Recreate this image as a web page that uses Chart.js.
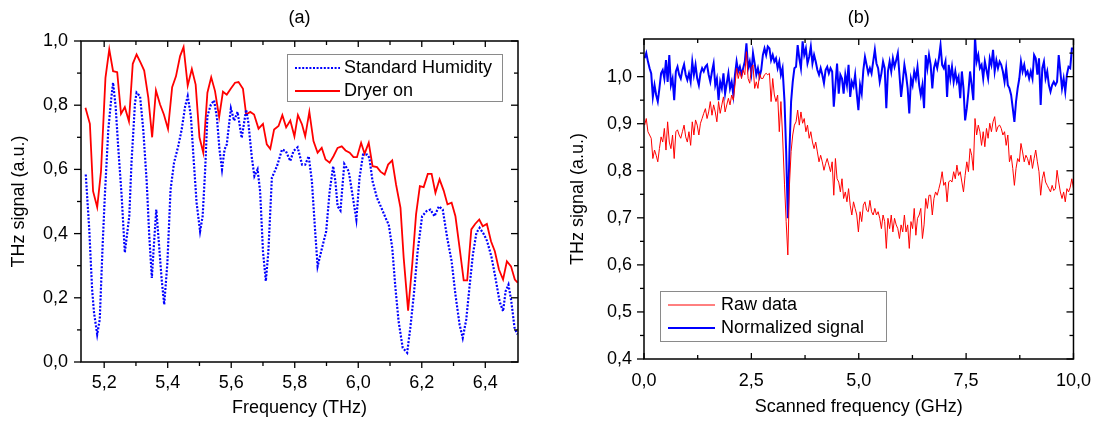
<!DOCTYPE html>
<html>
<head>
<meta charset="utf-8">
<title>THz signal</title>
<script src="https://cdn.jsdelivr.net/npm/chart.js@4.4.1/dist/chart.umd.min.js"></script>
<style>
  html, body { margin: 0; padding: 0; background: #fff; }
  .panel { position: absolute; top: 0; width: 551px; height: 428px; }
</style>
</head>
<body>
<div class="panel" style="left:0"><canvas id="chartA" width="551" height="428"></canvas></div>
<div class="panel" style="left:551px"><canvas id="chartB" width="551" height="428"></canvas></div>
<script>
// --- (a) spectra, THz ---
const freqHum = [
  5.142,5.153,5.162,5.168,5.178,5.186,5.195,5.202,5.213,5.223,
  5.228,5.236,5.244,5.255,5.265,5.279,5.286,5.297,5.302,5.313,
  5.323,5.334,5.342,5.350,5.357,5.364,5.373,5.381,5.389,5.399,
  5.409,5.420,5.433,5.444,5.455,5.463,5.473,5.481,5.491,5.502,
  5.510,5.518,5.525,5.536,5.546,5.555,5.563,5.571,5.579,5.586,
  5.599,5.609,5.620,5.633,5.647,5.654,5.665,5.673,5.683,5.691,
  5.700,5.709,5.717,5.728,5.744,5.760,5.772,5.786,5.796,5.809,
  5.823,5.833,5.844,5.854,5.865,5.872,5.886,5.899,5.910,5.921,
  5.928,5.935,5.944,5.956,5.970,5.980,5.994,6.004,6.015,6.028,
  6.035,6.045,6.059,6.073,6.086,6.096,6.107,6.117,6.127,6.140,
  6.154,6.164,6.175,6.187,6.201,6.215,6.227,6.240,6.254,6.266,
  6.280,6.294,6.306,6.319,6.329,6.340,6.350,6.361,6.372,6.382,
  6.396,6.406,6.420,6.432,6.445,6.456,6.464,6.473,6.482,6.492,
  6.501
];
const humidity = [
  0.584,0.413,0.226,0.154,0.086,0.132,0.361,0.517,0.724,0.828,
  0.870,0.797,0.672,0.517,0.341,0.454,0.621,0.807,0.839,0.828,
  0.724,0.559,0.392,0.262,0.371,0.475,0.361,0.257,0.179,0.309,
  0.537,0.621,0.672,0.724,0.797,0.828,0.766,0.641,0.496,0.407,
  0.454,0.600,0.766,0.802,0.815,0.761,0.662,0.600,0.662,0.678,
  0.790,0.752,0.779,0.698,0.786,0.745,0.636,0.579,0.600,0.532,
  0.345,0.252,0.345,0.574,0.610,0.662,0.657,0.626,0.657,0.669,
  0.615,0.615,0.641,0.563,0.397,0.298,0.356,0.407,0.532,0.610,
  0.563,0.485,0.472,0.617,0.594,0.532,0.444,0.574,0.646,0.646,
  0.636,0.563,0.511,0.480,0.449,0.428,0.356,0.231,0.127,0.044,
  0.029,0.107,0.210,0.345,0.454,0.470,0.475,0.454,0.485,0.475,
  0.387,0.314,0.210,0.117,0.075,0.132,0.231,0.335,0.402,0.418,
  0.397,0.376,0.325,0.262,0.189,0.158,0.220,0.241,0.189,0.107,
  0.086
];
const freqDry = [
  5.141,5.155,5.165,5.178,5.190,5.204,5.216,5.228,5.241,5.253,
  5.265,5.278,5.290,5.302,5.315,5.326,5.339,5.351,5.363,5.376,
  5.388,5.401,5.414,5.426,5.439,5.450,5.463,5.476,5.488,5.500,
  5.512,5.525,5.537,5.549,5.562,5.574,5.586,5.599,5.612,5.623,
  5.637,5.647,5.660,5.672,5.686,5.700,5.712,5.723,5.735,5.749,
  5.761,5.773,5.786,5.799,5.810,5.823,5.833,5.846,5.859,5.872,
  5.885,5.897,5.910,5.922,5.935,5.948,5.960,5.973,5.985,5.996,
  6.009,6.020,6.033,6.045,6.059,6.070,6.083,6.094,6.107,6.119,
  6.133,6.143,6.157,6.170,6.182,6.194,6.206,6.219,6.231,6.243,
  6.256,6.269,6.281,6.294,6.306,6.319,6.332,6.343,6.356,6.368,
  6.381,6.392,6.405,6.418,6.430,6.443,6.456,6.468,6.481,6.493,
  6.502
];
const dryer = [
  0.792,0.742,0.532,0.482,0.594,0.885,0.974,0.906,0.903,0.773,
  0.794,0.750,0.929,0.958,0.932,0.908,0.823,0.700,0.846,0.802,
  0.771,0.726,0.856,0.890,0.953,0.981,0.861,0.913,0.864,0.700,
  0.652,0.839,0.887,0.844,0.763,0.842,0.833,0.852,0.870,0.872,
  0.851,0.771,0.779,0.771,0.727,0.742,0.678,0.664,0.724,0.735,
  0.769,0.731,0.752,0.703,0.769,0.740,0.703,0.779,0.688,0.652,
  0.667,0.631,0.621,0.641,0.667,0.672,0.659,0.652,0.638,0.638,
  0.683,0.649,0.683,0.610,0.607,0.593,0.584,0.615,0.628,0.553,
  0.480,0.325,0.160,0.304,0.460,0.548,0.545,0.586,0.586,0.527,
  0.569,0.534,0.491,0.496,0.454,0.356,0.254,0.254,0.413,0.430,
  0.444,0.423,0.430,0.376,0.345,0.288,0.257,0.314,0.298,0.257,
  0.247
];
const xTicksA = [5.2, 5.4, 5.6, 5.8, 6.0, 6.2, 6.4];
const xMinorA = [5.3, 5.5, 5.7, 5.9, 6.1, 6.3];
const yTicksA = [0, 0.2, 0.4, 0.6, 0.8, 1.0];
const yMinorA = [0.1, 0.3, 0.5, 0.7, 0.9];

// --- (b) scan, GHz ---
const freqB = [
  0.015,0.053,0.092,0.130,0.168,0.206,0.245,0.283,0.321,0.359,
  0.398,0.436,0.474,0.512,0.550,0.589,0.627,0.665,0.703,0.742,
  0.780,0.818,0.856,0.894,0.933,0.971,1.009,1.047,1.086,1.124,
  1.162,1.200,1.239,1.277,1.315,1.353,1.391,1.430,1.468,1.506,
  1.544,1.583,1.621,1.659,1.697,1.736,1.774,1.812,1.850,1.888,
  1.927,1.965,2.003,2.041,2.080,2.118,2.156,2.194,2.232,2.271,
  2.309,2.347,2.385,2.424,2.462,2.500,2.538,2.577,2.615,2.653,
  2.691,2.729,2.768,2.806,2.844,2.882,2.921,2.959,2.997,3.035,
  3.073,3.112,3.150,3.188,3.226,
  3.272,3.310,3.349,3.387,3.425,3.463,3.502,3.540,3.578,3.616,
  3.654,3.693,3.731,3.769,3.807,3.846,3.884,3.922,3.960,3.998,
  4.037,4.075,4.113,4.151,4.190,4.228,4.266,4.304,4.343,4.381,
  4.419,4.457,4.495,4.534,4.572,4.610,4.648,4.687,4.725,4.763,
  4.801,4.839,4.878,4.916,4.954,4.992,5.031,5.069,5.107,5.145,
  5.183,5.222,5.260,5.298,5.336,5.375,5.413,5.451,5.489,5.528,
  5.566,5.604,5.642,5.680,5.719,5.757,5.795,5.833,5.872,5.910,
  5.948,5.986,6.024,6.063,6.101,6.139,6.177,6.216,6.254,6.292,
  6.330,6.368,6.407,6.445,6.483,6.521,6.560,6.598,6.636,6.674,
  6.713,6.751,6.789,6.827,6.866,6.904,6.942,6.980,7.019,7.057,
  7.095,7.133,7.171,7.210,7.248,7.286,7.324,7.363,7.401,7.439,
  7.477,7.516,7.554,7.592,7.630,7.668,7.707,7.745,7.783,7.821,
  7.860,7.898,7.936,7.974,8.012,8.051,8.089,8.127,8.165,8.204,
  8.242,8.280,8.318,8.356,8.395,8.433,8.471,8.509,8.548,8.586,
  8.624,8.662,8.700,8.739,8.777,8.815,8.853,8.892,8.930,8.968,
  9.006,9.045,9.083,9.121,9.159,9.197,9.236,9.274,9.312,9.350,
  9.389,9.427,9.465,9.503,9.541,9.580,9.618,9.656,9.694,9.733,
  9.771,9.809,9.847,9.885,9.924,9.962,10.000
];
const rawB = [
  0.897,0.911,0.883,0.876,0.869,0.826,0.844,0.833,0.819,0.847,
  0.872,0.861,0.890,0.844,0.904,0.861,0.847,0.876,0.826,0.883,
  0.887,0.876,0.869,0.883,0.897,0.872,0.861,0.883,0.854,0.904,
  0.876,0.908,0.897,0.876,0.901,0.911,0.922,0.932,0.911,0.925,
  0.947,0.918,0.940,0.925,0.904,0.947,0.922,0.940,0.957,0.925,
  0.940,0.954,0.940,0.961,0.950,0.982,1.018,0.996,1.011,0.996,
  1.014,1.004,1.053,0.996,0.986,1.018,1.025,0.975,0.989,0.975,
  1.007,0.996,0.996,1.004,1.007,1.004,1.007,0.947,0.996,0.961,
  0.947,0.961,0.883,0.947,0.876,
  0.770,0.692,0.621,0.770,0.841,0.876,0.897,0.904,0.929,0.897,
  0.925,0.901,0.911,0.883,0.897,0.869,0.883,0.861,0.847,0.861,
  0.840,0.819,0.833,0.819,0.801,0.815,0.826,0.812,0.798,0.819,
  0.748,0.826,0.783,0.776,0.755,0.783,0.741,0.755,0.734,0.762,
  0.727,0.706,0.734,0.720,0.706,0.670,0.713,0.692,0.727,0.734,
  0.716,0.713,0.737,0.713,0.706,0.720,0.706,0.713,0.699,0.677,
  0.706,0.692,0.635,0.699,0.677,0.706,0.670,0.699,0.685,0.677,
  0.656,0.685,0.670,0.706,0.670,0.685,0.635,0.692,0.677,0.720,
  0.663,0.699,0.706,0.720,0.656,0.685,0.741,0.720,0.748,0.748,
  0.706,0.741,0.755,0.748,0.762,0.776,0.798,0.769,0.776,0.734,
  0.776,0.780,0.776,0.798,0.783,0.812,0.790,0.798,0.776,0.755,
  0.790,0.819,0.798,0.847,0.833,0.801,0.911,0.876,0.897,0.883,
  0.854,0.883,0.851,0.890,0.869,0.901,0.883,0.904,0.915,0.883,
  0.894,0.897,0.890,0.876,0.883,0.854,0.876,0.819,0.833,0.805,
  0.769,0.805,0.826,0.819,0.858,0.840,0.819,0.833,0.826,0.812,
  0.833,0.805,0.826,0.844,0.819,0.798,0.748,0.783,0.798,0.776,
  0.769,0.762,0.755,0.769,0.758,0.762,0.801,0.776,0.755,0.741,
  0.755,0.734,0.762,0.755,0.765,0.783,0.762
];
const normB = [
  1.039,1.050,1.032,1.018,1.007,0.957,0.982,0.961,0.947,0.975,
  1.007,1.014,0.996,1.035,0.989,1.046,0.982,0.996,0.950,1.011,
  1.021,1.004,0.996,1.014,1.026,1.004,0.993,1.007,0.989,1.032,
  1.004,1.025,0.996,0.982,1.007,1.018,1.011,1.021,1.025,1.004,
  0.989,1.011,1.028,0.982,0.996,0.950,0.989,0.975,1.007,0.964,
  0.986,1.007,0.975,0.989,0.961,1.004,1.032,1.011,1.021,1.004,
  1.018,1.032,1.071,1.018,1.032,1.007,1.050,1.028,1.004,1.018,
  1.000,1.014,1.046,1.060,1.046,1.064,1.060,1.035,1.046,1.032,
  1.039,1.018,1.032,1.004,1.018,
  0.947,0.841,0.699,0.841,0.947,0.989,1.018,1.021,1.067,1.039,
  1.018,1.075,1.046,1.060,1.028,1.042,1.064,1.028,1.046,1.032,
  1.014,1.004,1.018,1.004,0.986,1.014,1.021,1.007,1.018,1.011,
  0.936,0.982,1.028,0.964,1.004,0.996,0.964,1.004,0.982,1.025,
  0.957,0.989,0.979,1.004,0.964,0.929,0.982,0.964,1.014,1.042,
  1.025,1.007,1.018,1.007,1.032,1.057,1.028,1.018,0.989,1.007,
  1.032,1.018,0.933,1.011,1.032,1.011,1.039,1.021,1.035,1.050,
  1.004,0.957,0.989,1.025,1.004,0.975,0.922,0.996,0.982,1.011,
  0.996,1.021,0.982,0.961,0.982,0.933,1.046,1.018,1.046,1.025,
  0.975,1.018,1.032,1.018,1.039,1.067,1.025,1.018,1.032,0.957,
  1.025,0.996,1.021,0.989,1.011,0.989,1.000,0.954,1.011,0.975,
  0.907,0.933,0.968,1.011,0.982,0.950,1.085,1.032,1.046,1.018,
  1.025,0.996,1.032,1.014,0.996,1.039,1.025,1.057,1.011,1.035,
  1.018,1.032,1.025,1.011,0.989,1.018,0.982,0.975,0.961,0.933,
  0.904,0.947,0.975,0.996,1.032,1.011,1.025,1.004,1.011,0.996,
  1.011,0.996,1.046,1.039,1.004,1.039,0.940,1.018,1.032,0.996,
  1.011,0.982,0.968,0.982,0.989,0.982,0.989,1.046,1.011,0.975,
  0.996,0.968,1.004,1.021,1.018,1.060,1.060
];
const xTicksB = [0, 2.5, 5, 7.5, 10];
const xMinorB = [1.25, 3.75, 6.25, 8.75];
const yTicksB = [0.4, 0.5, 0.6, 0.7, 0.8, 0.9, 1.0];
const yMinorB = [0.45, 0.55, 0.65, 0.75, 0.85, 0.95, 1.05];

const FONT = '"Liberation Sans", Arial, sans-serif';
Chart.defaults.font.family = FONT;
Chart.defaults.font.size = 18;
Chart.defaults.color = '#000';

const comma = d => v => Number(v).toFixed(d).replace('.', ',');
const pts = (xs, ys) => xs.map((x, i) => ({ x: x, y: ys[i] }));

// frame, inner/outer ticks, panel title and boxed legend
const framePlugin = {
  id: 'frame',
  afterDatasetsDraw(chart, args, o) {
    const { ctx, chartArea: a } = chart;
    const sx = chart.scales.x, sy = chart.scales.y;
    const mark = (x0, y0, x1, y1) => { ctx.beginPath(); ctx.moveTo(x0, y0); ctx.lineTo(x1, y1); ctx.stroke(); };
    ctx.save();
    ctx.strokeStyle = '#000';
    ctx.lineWidth = 1.5;
    ctx.strokeRect(a.left, a.top, a.right - a.left, a.bottom - a.top);
    ctx.lineWidth = 1.3;
    [[o.xMajor, 6], [o.xMinor, 4]].forEach(([vals, len]) => vals.forEach(v => {
      const p = sx.getPixelForValue(v);
      mark(p, a.bottom, p, a.bottom + (o.bottomIn ? -len : len));
      mark(p, a.top, p, a.top + len);
    }));
    [[o.yMajor, 7], [o.yMinor, 4]].forEach(([vals, len]) => vals.forEach(v => {
      const p = sy.getPixelForValue(v);
      mark(a.left, p, a.left - len, p);
      mark(a.right, p, a.right - len, p);
    }));

    ctx.fillStyle = '#000';
    ctx.font = '18px ' + FONT;
    ctx.textAlign = 'center';
    ctx.textBaseline = 'middle';
    ctx.fillText(o.title, (a.left + a.right) / 2, o.titleY);

    const lg = o.legend;
    ctx.fillStyle = '#fff';
    ctx.fillRect(lg.box[0], lg.box[1], lg.box[2] - lg.box[0], lg.box[3] - lg.box[1]);
    ctx.strokeStyle = '#8a8a8a';
    ctx.lineWidth = 1;
    ctx.strokeRect(lg.box[0] + 0.5, lg.box[1] + 0.5, lg.box[2] - lg.box[0], lg.box[3] - lg.box[1]);
    lg.order.forEach((di, row) => {
      const ds = chart.data.datasets[di];
      const y = lg.rows[row];
      ctx.save();
      ctx.strokeStyle = ds.borderColor;
      ctx.lineWidth = ds.borderWidth;
      ctx.setLineDash(ds.borderDash || []);
      mark(lg.line[0], y, lg.line[1], y);
      ctx.restore();
      ctx.fillStyle = '#000';
      ctx.textAlign = 'left';
      ctx.fillText(ds.label, lg.textX, y);
    });
    ctx.restore();
  }
};

function axis(min, max, major, fmt, width, height, pad, title, titlePad) {
  const s = {
    type: 'linear', min: min, max: max,
    afterBuildTicks: sc => { sc.ticks = major.map(v => ({ value: v })); },
    grid: { display: false, drawTicks: false },
    border: { display: false },
    ticks: { padding: pad, autoSkip: false, maxRotation: 0, callback: fmt },
    title: { display: true, text: title, padding: titlePad }
  };
  if (width) s.afterFit = sc => { sc.width = width; };
  if (height) s.afterFit = sc => { sc.height = height; };
  return s;
}

new Chart(document.getElementById('chartA'), {
  type: 'line',
  data: {
    datasets: [
      { label: 'Standard Humidity', data: pts(freqHum, humidity), borderColor: '#0000ff',
        borderWidth: 2.2, borderDash: [2, 1.6], borderCapStyle: 'butt', pointRadius: 0, tension: 0 },
      { label: 'Dryer on', data: pts(freqDry, dryer), borderColor: '#ff0000',
        borderWidth: 1.8, pointRadius: 0, tension: 0 }
    ]
  },
  options: {
    responsive: false, animation: false, devicePixelRatio: 1,
    layout: { padding: { top: 41, right: 33, left: 0, bottom: 0 } },
    scales: {
      x: axis(5.127, 6.503, xTicksA, comma(1), 0, 66, 10, 'Frequency (THz)', { top: 0, bottom: 9 }),
      y: axis(0, 1, yTicksA, comma(1), 81, 0, 13, 'THz signal (a.u.)', { top: 8, bottom: 0 })
    },
    plugins: {
      legend: { display: false },
      tooltip: { enabled: false },
      frame: {
        title: '(a)', titleY: 18, bottomIn: false,
        xMajor: xTicksA, xMinor: xMinorA, yMajor: yTicksA, yMinor: yMinorA,
        legend: { box: [287, 54, 502, 101], line: [295, 340], textX: 344, rows: [68, 91], order: [0, 1] }
      }
    }
  },
  plugins: [framePlugin]
});

new Chart(document.getElementById('chartB'), {
  type: 'line',
  data: {
    datasets: [
      { label: 'Raw data', data: pts(freqB, rawB), borderColor: '#ff0000',
        borderWidth: 1, pointRadius: 0, tension: 0 },
      { label: 'Normalized signal', data: pts(freqB, normB), borderColor: '#0000ff',
        borderWidth: 2, pointRadius: 0, tension: 0 }
    ]
  },
  options: {
    responsive: false, animation: false, devicePixelRatio: 1,
    layout: { padding: { top: 39, right: 22, left: 0, bottom: 0 } },
    scales: {
      x: axis(0, 10, xTicksB, comma(1), 0, 69, 11, 'Scanned frequency (GHz)', { top: 0, bottom: 10 }),
      y: axis(0.4, 1.08, yTicksB, comma(1), 93, 0, 12, 'THz signal (a.u.)', { top: 16, bottom: 0 })
    },
    plugins: {
      legend: { display: false },
      tooltip: { enabled: false },
      frame: {
        title: '(b)', titleY: 18, bottomIn: true,
        xMajor: xTicksB, xMinor: xMinorB, yMajor: yTicksB, yMinor: yMinorB,
        legend: { box: [109, 291, 335, 341], line: [117, 164], textX: 170, rows: [305, 328], order: [0, 1] }
      }
    }
  },
  plugins: [framePlugin]
});
</script>
</body>
</html>
